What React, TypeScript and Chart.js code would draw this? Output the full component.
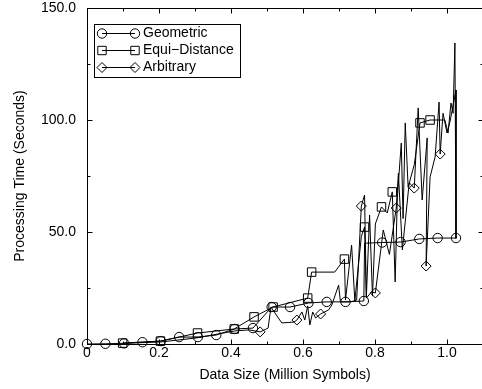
import React, { useEffect, useRef } from 'react';
import { Chart, registerables } from 'chart.js';

Chart.register(...registerables);

// Axis ticks
const xTicks = [0, 0.2, 0.4, 0.6, 0.8, 1.0];
const xMinorTicks = [0.1, 0.3, 0.5, 0.7, 0.9];
const yTicks = [0, 50, 100, 150];
const yMinorTicks = [25, 75, 125];

// Geometric partitioning
const geometricX = [
  0, 0.051, 0.103, 0.154, 0.205, 0.256, 0.308, 0.359, 0.41, 0.461, 0.513,
  0.564, 0.615, 0.666, 0.718, 0.769, 0.771, 0.82, 0.871, 0.923, 0.974, 1.025,
];
const geometricY = [
  0, 0.1, 0.3, 0.8, 1.3, 3.1, 3.1, 4.0, 6.7, 7.1, 16.5,
  16.5, 18.3, 18.8, 18.8, 19.2, 45.0, 45.3, 45.5, 46.9, 47.3, 47.3,
];
const geometricMarked = [0, 1, 2, 3, 4, 5, 6, 7, 8, 9, 10, 11, 12, 13, 14, 15, 17, 18, 19, 20, 21];

// Equi-distance partitioning
const equiX = [
  0.099, 0.204, 0.307, 0.409, 0.464, 0.517, 0.613, 0.624, 0.688, 0.715,
  0.718, 0.735, 0.744, 0.762, 0.771, 0.776, 0.785, 0.793, 0.801, 0.818,
  0.834, 0.848, 0.856, 0.862, 0.873, 0.878, 0.884, 0.892, 0.909, 0.925,
  0.953, 0.994, 1.003, 1.011, 1.017, 1.022, 1.025,
];
const equiY = [
  0.4, 1.3, 4.9, 6.7, 12.1, 16.5, 20.5, 32.1, 32.1, 37.9,
  19.6, 44.2, 19.2, 48.0, 52.2, 21.0, 57.6, 21.4, 53.6, 61.2,
  58.5, 67.9, 27.7, 65.2, 89.7, 56.0, 98.7, 70.0, 80.0, 98.7,
  100.0, 100.0, 94.2, 107.6, 103.0, 134.4, 46.9,
];
const equiMarked = [0, 1, 2, 3, 4, 5, 6, 7, 9, 14, 19, 21, 29, 30];

// Arbitrary partitioning
const arbitraryX = [
  0.1, 0.204, 0.304, 0.409, 0.45, 0.481, 0.503, 0.511, 0.541, 0.575,
  0.583, 0.597, 0.605, 0.613, 0.619, 0.627, 0.635, 0.649, 0.671, 0.68,
  0.699, 0.704, 0.732, 0.749, 0.762, 0.771, 0.776, 0.79, 0.801, 0.823,
  0.84, 0.859, 0.865, 0.876, 0.895, 0.909, 0.92, 0.931, 0.945, 0.942,
  0.953, 0.967, 0.978, 0.981, 0.989, 1.0, 1.008, 1.025, 1.025,
];
const arbitraryY = [
  0.3, 0.9, 2.7, 5.8, 6.3, 5.4, 7.1, 16.5, 9.4, 9.8,
  10.7, 14.3, 10.7, 17.0, 8.5, 14.3, 11.6, 13.4, 15.2, 17.4,
  26.3, 18.8, 18.8, 19.6, 61.6, 66.5, 20.5, 23.2, 22.8, 50.9,
  40.0, 60.7, 76.3, 42.0, 72.0, 69.6, 105.4, 64.3, 92.0, 34.8,
  74.6, 83.5, 108.0, 84.8, 103.0, 94.2, 99.0, 113.4, 47.3,
];
const arbitraryMarked = [5, 10, 17, 24, 28, 31, 35, 39, 43];

const FONT_FAMILY = '"Liberation Sans", Arial, Helvetica, sans-serif';
const CANVAS_W = 490;
const CANVAS_H = 389;

type MarkerKind = 'circle' | 'rect' | 'rectRot';

function strokeMarker(ctx: CanvasRenderingContext2D, kind: MarkerKind, x: number, y: number) {
  ctx.beginPath();
  if (kind === 'circle') {
    ctx.arc(x, y, 4.7, 0, Math.PI * 2);
  } else if (kind === 'rect') {
    ctx.rect(x - 4.2, y - 4.2, 8.4, 8.4);
  } else {
    ctx.moveTo(x, y - 5);
    ctx.lineTo(x + 5, y);
    ctx.lineTo(x, y + 5);
    ctx.lineTo(x - 5, y);
    ctx.closePath();
  }
  ctx.stroke();
}

const legendEntries: { label: string; kind: MarkerKind }[] = [
  { label: 'Geometric', kind: 'circle' },
  { label: 'Equi\u2212Distance', kind: 'rect' },
  { label: 'Arbitrary', kind: 'rectRot' },
];

// Box frame with inward tick marks on all four sides, plus the key box
const framePlugin = {
  id: 'frameAndKey',
  afterDraw(chart: any) {
    const { ctx, chartArea } = chart;
    const xs = chart.scales.x;
    const ys = chart.scales.y;
    const left = Math.round(chartArea.left) + 0.5;
    const right = Math.round(chartArea.right) + 0.5;
    const top = Math.round(chartArea.top) + 0.5;
    const bottom = Math.round(chartArea.bottom) + 0.5;
    ctx.save();
    ctx.strokeStyle = '#000';
    ctx.lineWidth = 1;
    ctx.strokeRect(left, top, right - left, bottom - top);

    const tickX = (v: number, len: number) => {
      const px = Math.round(xs.getPixelForValue(v)) + 0.5;
      ctx.beginPath();
      ctx.moveTo(px, bottom);
      ctx.lineTo(px, bottom - len);
      ctx.moveTo(px, top);
      ctx.lineTo(px, top + len);
      ctx.stroke();
    };
    const tickY = (v: number, len: number) => {
      const py = Math.round(ys.getPixelForValue(v)) + 0.5;
      ctx.beginPath();
      ctx.moveTo(left, py);
      ctx.lineTo(left + len, py);
      ctx.moveTo(right, py);
      ctx.lineTo(right - len, py);
      ctx.stroke();
    };
    xTicks.forEach((v) => tickX(v, 5));
    xMinorTicks.forEach((v) => tickX(v, 3));
    yTicks.forEach((v) => tickY(v, 5));
    yMinorTicks.forEach((v) => tickY(v, 3));

    // key
    ctx.strokeRect(94.5, 24.5, 146, 53);
    ctx.font = `14px ${FONT_FAMILY}`;
    ctx.fillStyle = '#000';
    ctx.textBaseline = 'middle';
    ctx.textAlign = 'left';
    legendEntries.forEach((e, i) => {
      const y = 33 + i * 17 + 0.5;
      ctx.beginPath();
      ctx.moveTo(102, y);
      ctx.lineTo(135, y);
      ctx.stroke();
      strokeMarker(ctx, e.kind, 102, y);
      strokeMarker(ctx, e.kind, 135, y);
      ctx.fillText(e.label, 143, y);
    });
    ctx.restore();
  },
};

function series(label: string, xs: number[], ys: number[], marked: number[], pointStyle: string, radius: number) {
  const set = new Set(marked);
  return {
    label,
    data: xs.map((x, i) => ({ x, y: ys[i] })),
    borderColor: '#000',
    borderWidth: 1,
    tension: 0,
    fill: false,
    clip: false as const,
    pointStyle,
    pointRadius: (c: any) => (set.has(c.dataIndex) ? radius : 0),
    pointHoverRadius: 0,
    pointBorderColor: '#000',
    pointBorderWidth: 1,
    pointBackgroundColor: 'rgba(0,0,0,0)',
  };
}

export default function App() {
  const canvasRef = useRef<HTMLCanvasElement | null>(null);

  useEffect(() => {
    const canvas = canvasRef.current;
    if (!canvas) return;
    const font = { family: FONT_FAMILY, size: 14 };
    const chart = new Chart(canvas, {
      type: 'line',
      data: {
        datasets: [
          series('Geometric', geometricX, geometricY, geometricMarked, 'circle', 4.7),
          series('Equi\u2212Distance', equiX, equiY, equiMarked, 'rect', 6),
          series('Arbitrary', arbitraryX, arbitraryY, arbitraryMarked, 'rectRot', 5),
        ] as any,
      },
      options: {
        animation: false,
        responsive: false,
        devicePixelRatio: 1,
        events: [],
        layout: { padding: { top: 8, right: CANVAS_W - 485.2, left: 0, bottom: 0 } },
        plugins: { legend: { display: false }, tooltip: { enabled: false } },
        scales: {
          x: {
            type: 'linear',
            min: 0,
            max: 1.1,
            afterBuildTicks: (s: any) => {
              s.ticks = xTicks.map((value) => ({ value }));
            },
            afterFit: (s: any) => {
              s.height = 45;
              s.paddingLeft = 0;
              s.paddingRight = 0;
            },
            grid: { display: false, drawTicks: false },
            border: { display: false },
            ticks: {
              color: '#000',
              font,
              padding: 1,
              maxRotation: 0,
              autoSkip: false,
              callback: (v: any) => (Number(v) === 0 ? '0' : Number(v).toFixed(1)),
            },
            title: {
              display: true,
              text: 'Data Size (Million Symbols)',
              color: '#000',
              font,
              padding: { top: 0, bottom: 5.6 },
            },
          },
          y: {
            type: 'linear',
            min: 0,
            max: 150,
            afterBuildTicks: (s: any) => {
              s.ticks = yTicks.map((value) => ({ value }));
            },
            afterFit: (s: any) => {
              s.width = 87;
              s.paddingTop = 0;
              s.paddingBottom = 0;
            },
            grid: { display: false, drawTicks: false },
            border: { display: false },
            ticks: {
              color: '#000',
              font: { ...font, lineHeight: 1 },
              padding: 11,
              callback: (v: any) => Number(v).toFixed(1),
            },
            title: {
              display: true,
              text: 'Processing Time (Seconds)',
              color: '#000',
              font,
              padding: { top: 11.6, bottom: 0 },
            },
          },
        },
      } as any,
      plugins: [framePlugin],
    });
    return () => chart.destroy();
  }, []);

  return (
    <div
      style={{
        position: 'absolute',
        left: 0,
        top: 0,
        width: 482,
        height: CANVAS_H,
        overflow: 'hidden',
        background: '#fff',
      }}
    >
      <canvas
        ref={canvasRef}
        width={CANVAS_W}
        height={CANVAS_H}
        style={{ display: 'block', width: CANVAS_W, height: CANVAS_H }}
      />
    </div>
  );
}
